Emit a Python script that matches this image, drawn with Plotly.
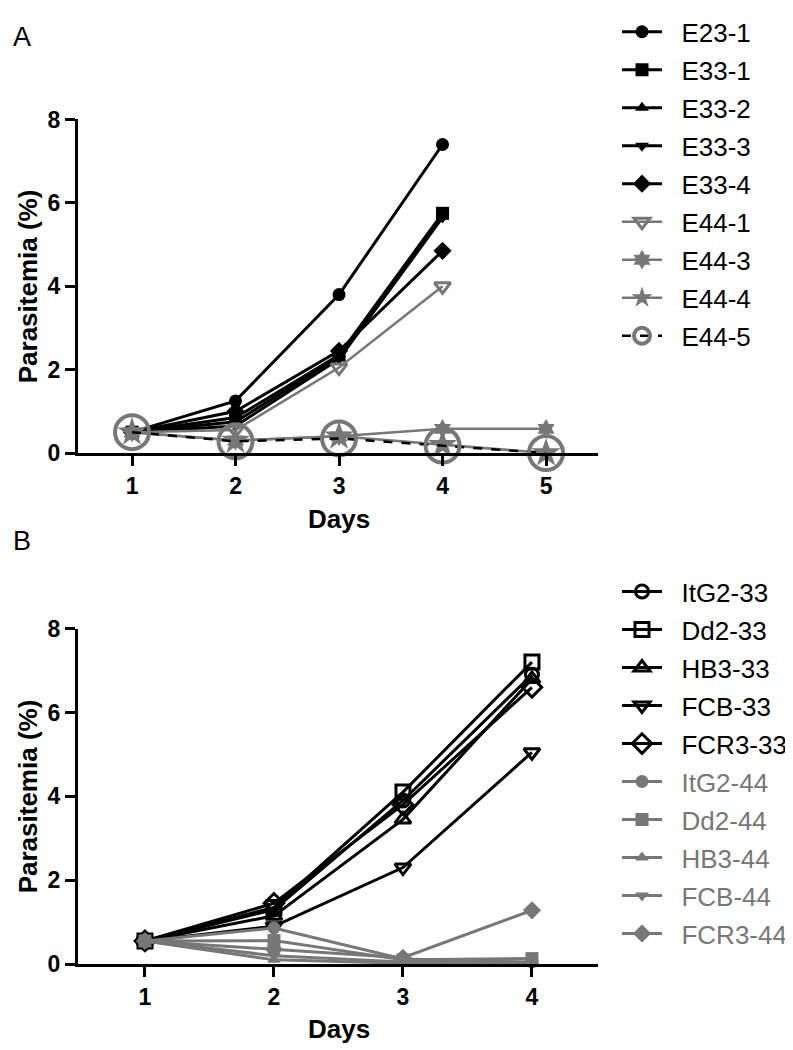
import plotly.graph_objects as go

# ---------------- data ----------------
days_a = [1, 2, 3, 4, 5]
names_a = ["E23-1", "E33-1", "E33-2", "E33-3", "E33-4", "E44-1", "E44-3", "E44-4", "E44-5"]
e23_1 = [0.5, 1.25, 3.8, 7.4]
e33_1 = [0.5, 0.85, 2.35, 5.75]
e33_2 = [0.5, 0.75, 2.3, 5.7]
e33_3 = [0.5, 0.65, 2.25, 5.65]
e33_4 = [0.5, 1.0, 2.45, 4.85]
e44_1 = [0.5, 0.55, 2.05, 4.0]
e44_3 = [0.5, 0.3, 0.4, 0.58, 0.58]
e44_4 = [0.5, 0.3, 0.4, 0.2, 0.0]
e44_5 = [0.5, 0.28, 0.35, 0.18, 0.0]

days_b = [1, 2, 3, 4]
names_b = ["ItG2-33", "Dd2-33", "HB3-33", "FCB-33", "FCR3-33",
           "ItG2-44", "Dd2-44", "HB3-44", "FCB-44", "FCR3-44"]
itg2_33 = [0.55, 1.3, 3.9, 6.9]
dd2_33 = [0.55, 1.35, 4.1, 7.2]
hb3_33 = [0.55, 1.15, 3.45, 6.8]
fcb_33 = [0.55, 0.9, 2.3, 5.05]
fcr3_33 = [0.55, 1.45, 3.8, 6.6]
itg2_44 = [0.55, 0.86, 0.12, 0.05]
dd2_44 = [0.55, 0.56, 0.1, 0.13]
hb3_44 = [0.55, 0.1, 0.02, 0.0]
fcb_44 = [0.55, 0.2, 0.05, 0.02]
fcr3_44 = [0.55, 0.35, 0.15, 1.28]

y_ticks = [0, 2, 4, 6, 8]

# ---------------- style ----------------
BLACK = "#000000"
GRAY = "#777777"
FONT = "Liberation Sans, Arial, sans-serif"
W, H = 793, 1050
PAD = "\u00a0\u00a0"

fig = go.Figure()

def add(x, y, name, color, symbol, size, xa, ya, legend, open_=False, dash="solid",
        mlw=0, lw=3, text_color=None):
    label = PAD + name
    if text_color is not None:
        label = PAD + f'<span style="color:{text_color}">{name}</span>'
    marker = dict(symbol=symbol, size=size, color=color)
    if open_:
        marker["line"] = dict(color=color, width=mlw)
    fig.add_trace(go.Scatter(
        x=x[:len(y)], y=y, name=label, mode="lines+markers", legendgroup=name,
        line=dict(color=(BLACK if dash != "solid" else color), width=lw, dash=dash),
        marker=marker, xaxis=xa, yaxis=ya, legend=legend, cliponaxis=False))

# Panel A
add(days_a, e23_1, names_a[0], BLACK, "circle", 13, "x", "y", "legend")
add(days_a, e33_1, names_a[1], BLACK, "square", 13, "x", "y", "legend")
add(days_a, e33_2, names_a[2], BLACK, "triangle-up", 12, "x", "y", "legend")
add(days_a, e33_3, names_a[3], BLACK, "triangle-down", 12, "x", "y", "legend")
add(days_a, e33_4, names_a[4], BLACK, "diamond", 14, "x", "y", "legend")
add(days_a, e44_1, names_a[5], GRAY, "triangle-down-open", 14, "x", "y", "legend", open_=True, mlw=3, lw=2.5)
add(days_a, e44_3, names_a[6], GRAY, "hexagram", 15, "x", "y", "legend", lw=2.5)
add(days_a, e44_4, names_a[7], GRAY, "star", 22, "x", "y", "legend", lw=2.5)
add(days_a, e44_5, names_a[8], GRAY, "circle-open", 34, "x", "y", "legend", open_=True, mlw=4,
    dash="dash", lw=2.5)

# Panel B
add(days_b, itg2_33, names_b[0], BLACK, "circle-open", 13, "x2", "y2", "legend2", open_=True, mlw=3)
add(days_b, dd2_33, names_b[1], BLACK, "square-open", 14, "x2", "y2", "legend2", open_=True, mlw=3)
add(days_b, hb3_33, names_b[2], BLACK, "triangle-up-open", 14, "x2", "y2", "legend2", open_=True, mlw=3)
add(days_b, fcb_33, names_b[3], BLACK, "triangle-down-open", 14, "x2", "y2", "legend2", open_=True, mlw=3)
add(days_b, fcr3_33, names_b[4], BLACK, "diamond-open", 15, "x2", "y2", "legend2", open_=True, mlw=3)
add(days_b, itg2_44, names_b[5], GRAY, "circle", 13, "x2", "y2", "legend2", text_color=GRAY)
add(days_b, dd2_44, names_b[6], GRAY, "square", 13, "x2", "y2", "legend2", text_color=GRAY)
add(days_b, hb3_44, names_b[7], GRAY, "triangle-up", 12, "x2", "y2", "legend2", text_color=GRAY)
add(days_b, fcb_44, names_b[8], GRAY, "triangle-down", 12, "x2", "y2", "legend2", text_color=GRAY)
add(days_b, fcr3_44, names_b[9], GRAY, "diamond", 14, "x2", "y2", "legend2", text_color=GRAY)

def px_x(p):
    return p / W

def px_y(p):
    return 1 - p / H

axis_common = dict(showline=True, linecolor=BLACK, linewidth=3, ticks="outside",
                   ticklen=10, tickwidth=3, tickcolor=BLACK, showgrid=False, zeroline=False,
                   tickfont=dict(family=FONT, size=23, color=BLACK, weight="bold"))

legend_common = dict(xanchor="left", yanchor="top",
                     font=dict(family=FONT, size=26, color=BLACK), bgcolor="rgba(0,0,0,0)",
                     itemwidth=40, tracegroupgap=1.2, traceorder="grouped")

fig.update_layout(
    width=W, height=H, margin=dict(l=0, r=0, t=0, b=0),
    paper_bgcolor="white", plot_bgcolor="white",
    xaxis=dict(domain=[px_x(70), px_x(590)], range=[0.478, 5.502], anchor="y",
               tickvals=days_a, **axis_common),
    yaxis=dict(domain=[px_y(443), px_y(101)], range=[0, 8], anchor="x",
               tickvals=y_ticks, **axis_common),
    xaxis2=dict(domain=[px_x(70), px_x(590)], range=[0.481, 4.512], anchor="y2",
                tickvals=days_b, **axis_common),
    yaxis2=dict(domain=[px_y(967), px_y(623)], range=[0, 8], anchor="x2",
                tickvals=y_ticks, **axis_common),
    legend=dict(x=px_x(609), y=px_y(-13), **legend_common),
    legend2=dict(x=px_x(609), y=px_y(561), **legend_common),
    showlegend=True,
)

ann_font = dict(family=FONT, size=26, color=BLACK, weight="bold")
annotations = [
    dict(text="A", x=px_x(3), y=px_y(16), xanchor="left", yanchor="middle",
         font=dict(family=FONT, size=27, color=BLACK)),
    dict(text="B", x=px_x(3), y=px_y(533), xanchor="left", yanchor="middle",
         font=dict(family=FONT, size=27, color=BLACK)),
    dict(text="Days", x=px_x(331), y=px_y(511), xanchor="center", yanchor="middle", font=ann_font),
    dict(text="Days", x=px_x(331), y=px_y(1034), xanchor="center", yanchor="middle", font=ann_font),
    dict(text="Parasitemia (%)", x=px_x(20), y=px_y(272), xanchor="center", yanchor="middle",
         textangle=-90, font=ann_font),
    dict(text="Parasitemia (%)", x=px_x(20), y=px_y(795), xanchor="center", yanchor="middle",
         textangle=-90, font=ann_font),
]
for a in annotations:
    a.update(xref="paper", yref="paper", showarrow=False)
fig.update_layout(annotations=annotations)

fig.write_html("out.html")
